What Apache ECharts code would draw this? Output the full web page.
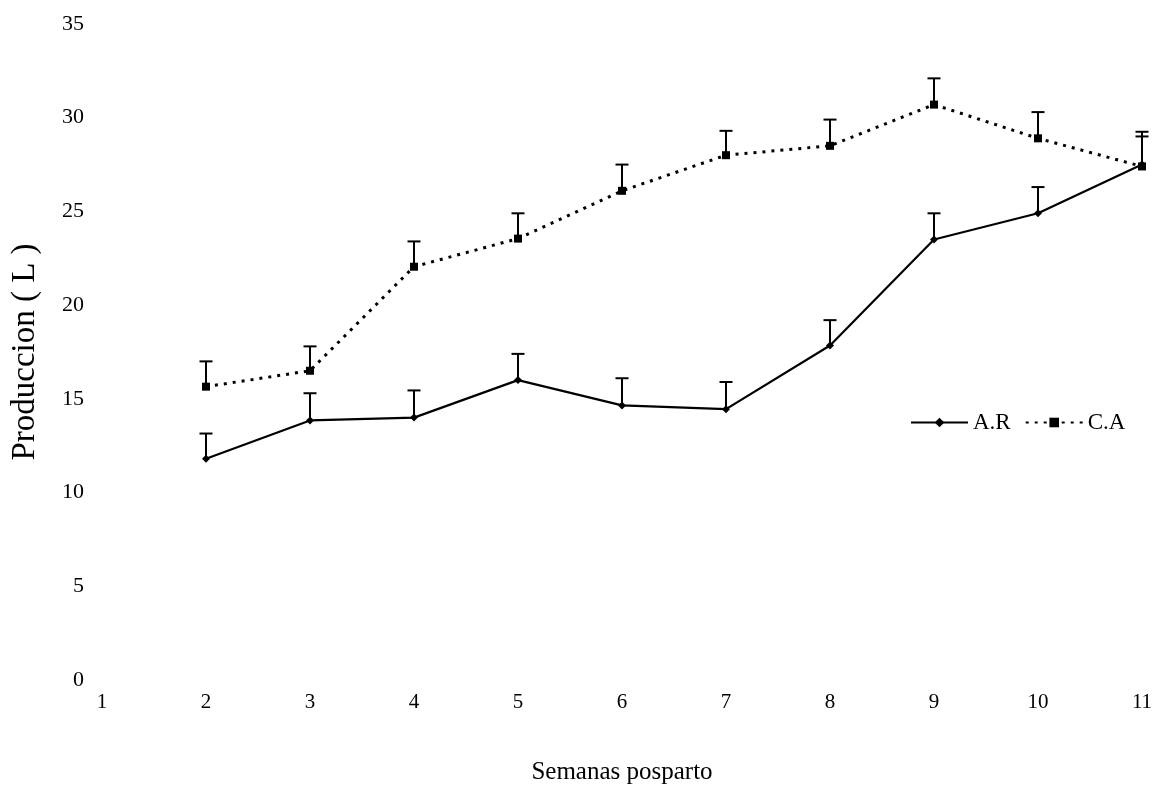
<!DOCTYPE html>
<html>
<head>
<meta charset="utf-8">
<script src="https://cdn.jsdelivr.net/npm/echarts@6/dist/echarts.min.js"></script>
<style>html,body{margin:0;padding:0;background:#fff;}#c{width:1153px;height:791px;}</style>
</head>
<body>
<div id="c"></div>
<script>
var weeks = [2, 3, 4, 5, 6, 7, 8, 9, 10, 11];
var xTicks = [1, 2, 3, 4, 5, 6, 7, 8, 9, 10, 11];
var arMean = [11.8, 13.85, 14.0, 16.0, 14.65, 14.45, 17.85, 23.5, 24.9, 27.5];
var arUpper = [13.15, 15.3, 15.45, 17.4, 16.1, 15.9, 19.2, 24.9, 26.3, 29.25];
var caMean = [15.65, 16.5, 22.05, 23.55, 26.1, 28.0, 28.5, 30.7, 28.9, 27.4];
var caUpper = [17.0, 17.8, 23.4, 24.9, 27.5, 29.3, 29.9, 32.1, 30.3, 29.0];
var seriesNames = ['A.R', 'C.A'];

function pairs(xs, ys) { return xs.map(function (x, i) { return [x, ys[i]]; }); }
function triples(xs, a, b) { return xs.map(function (x, i) { return [x, a[i], b[i]]; }); }

function errRender(params, api) {
  var x = api.value(0), m = api.value(1), u = api.value(2);
  var p0 = api.coord([x, m]);
  var p1 = api.coord([x, u]);
  var st = { stroke: '#000', lineWidth: 2 };
  return {
    type: 'group',
    children: [
      { type: 'line', shape: { x1: p0[0], y1: p0[1], x2: p1[0], y2: p1[1] }, style: st },
      { type: 'line', shape: { x1: p1[0] - 6.5, y1: p1[1], x2: p1[0] + 6.5, y2: p1[1] }, style: st }
    ]
  };
}

var chart = echarts.init(document.getElementById('c'));
var font = 'Liberation Serif';
chart.setOption({
  backgroundColor: '#fff',
  animation: false,
  textStyle: { fontFamily: font, color: '#000' },
  grid: { left: 102, right: 11, top: 24, bottom: 111, outerBoundsMode: 'none', containLabel: false },
  legend: {
    data: seriesNames,
    left: 905, top: 406,
    itemWidth: 57, itemHeight: 12, itemGap: 14,
    textStyle: { fontFamily: font, fontSize: 23, color: '#000' }
  },
  xAxis: {
    type: 'value', min: xTicks[0], max: xTicks[xTicks.length - 1], interval: 1,
    axisLine: { show: false }, axisTick: { show: false }, splitLine: { show: false },
    axisLabel: { fontFamily: font, fontSize: 21, color: '#000', margin: 12 },
    name: 'Semanas posparto', nameLocation: 'middle', nameGap: 80,
    nameTextStyle: { fontFamily: font, fontSize: 25, color: '#000' }
  },
  yAxis: {
    type: 'value', min: 0, max: 35, interval: 5,
    axisLine: { show: false }, axisTick: { show: false }, splitLine: { show: false },
    axisLabel: { fontFamily: font, fontSize: 22, color: '#000', margin: 18 },
    name: 'Produccion ( L )', nameLocation: 'middle', nameGap: 60,
    nameTextStyle: { fontFamily: font, fontSize: 33, color: '#000' }
  },
  series: [
    {
      type: 'custom', name: 'errAR', renderItem: errRender, data: triples(weeks, arMean, arUpper),
      encode: { x: 0, y: [1, 2] }, z: 1
    },
    {
      type: 'custom', name: 'errCA', renderItem: errRender, data: triples(weeks, caMean, caUpper),
      encode: { x: 0, y: [1, 2] }, z: 1
    },
    {
      name: seriesNames[0], type: 'line', data: pairs(weeks, arMean),
      symbol: 'diamond', symbolSize: 8, showAllSymbol: true,
      lineStyle: { color: '#000', width: 2.2 },
      itemStyle: { color: '#000' }, z: 3
    },
    {
      name: seriesNames[1], type: 'line', data: pairs(weeks, caMean),
      symbol: 'rect', symbolSize: 8, showAllSymbol: true,
      lineStyle: { color: '#000', width: 3, type: [3, 6] },
      itemStyle: { color: '#000' }, z: 3
    }
  ]
});
</script>
</body>
</html>
